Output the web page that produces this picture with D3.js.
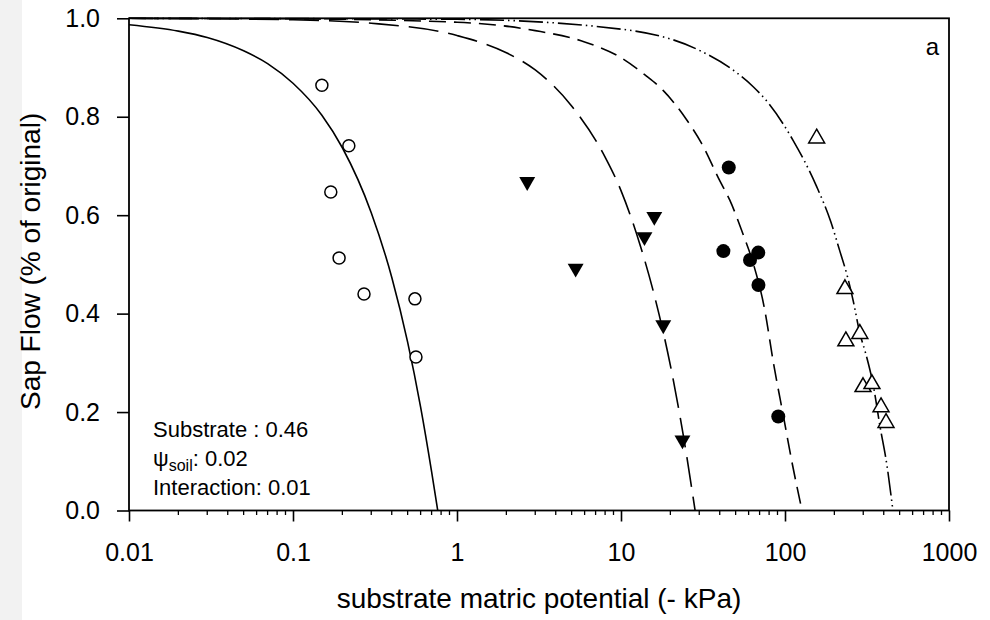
<!DOCTYPE html>
<html><head><meta charset="utf-8">
<script src="https://cdn.jsdelivr.net/npm/d3@7"></script>
<style>
html,body{margin:0;padding:0;background:#fff;}
svg{display:block;font-family:"Liberation Sans",Arial,Helvetica,sans-serif;}
</style></head>
<body>
<svg id="chart" width="990" height="620"></svg>
<script>
// ---- data ----
const xTickValues = [0.01, 0.1, 1, 10, 100, 1000];
const xTickLabels = ["0.01", "0.1", "1", "10", "100", "1000"];
const yTickValues = [0, 0.2, 0.4, 0.6, 0.8, 1.0];
const yTickLabels = ["0.0", "0.2", "0.4", "0.6", "0.8", "1.0"];

// observed points
const openCircleX = [0.150, 0.219, 0.170, 0.191, 0.271, 0.554, 0.562];
const openCircleY = [0.864, 0.741, 0.647, 0.513, 0.440, 0.430, 0.312];
const downTriX = [2.68, 5.29, 13.9, 15.96, 18.1, 23.7];
const downTriY = [0.668, 0.492, 0.556, 0.597, 0.377, 0.143];
const filledCircleX = [45.4, 42.1, 68.7, 61.2, 68.9, 91.0];
const filledCircleY = [0.697, 0.527, 0.524, 0.509, 0.458, 0.191];
const upTriX = [156, 232, 235, 286, 299, 339, 385, 413];
const upTriY = [0.756, 0.450, 0.344, 0.359, 0.251, 0.257, 0.210, 0.178];

// fitted curves
const solidX = [0.01, 0.02, 0.03, 0.05, 0.07, 0.1, 0.15, 0.2, 0.3, 0.4, 0.5, 0.6, 0.7, 0.763];
const solidY = [0.987, 0.974, 0.961, 0.934, 0.908, 0.868, 0.803, 0.737, 0.605, 0.474, 0.342, 0.21, 0.079, 0.0];
const longDashX = [0.01, 0.1, 0.3, 1, 2, 3, 5, 8, 10, 13, 16, 20, 24, 28.3];
const longDashY = [1.0, 0.997, 0.99, 0.965, 0.93, 0.895, 0.822, 0.718, 0.65, 0.542, 0.436, 0.295, 0.152, 0.0];
const medDashX = [0.01, 0.1, 1, 3, 6, 10, 14, 18, 25, 31, 40, 46, 55, 64, 75, 85, 98, 110, 127];
const medDashY = [1.0, 0.999, 0.992, 0.975, 0.952, 0.92, 0.885, 0.854, 0.795, 0.746, 0.67, 0.631, 0.565, 0.502, 0.41, 0.3, 0.19, 0.1, 0.0];
const dddX = [0.01, 1, 10, 30, 50, 64, 80, 112, 156, 190, 216, 240, 261, 286, 310, 345, 380, 417, 455];
const dddY = [1.0, 0.998, 0.978, 0.935, 0.891, 0.861, 0.826, 0.752, 0.658, 0.587, 0.527, 0.476, 0.425, 0.36, 0.32, 0.255, 0.17, 0.095, 0.0];

const annotLines = ["Substrate : 0.46", "ψ|soil|: 0.02", "Interaction: 0.01"];

// ---- layout ----
const svg = d3.select("#chart");
const L = 129, R = 949, T = 18.3, B = 510.5;

// faint scan texture strip at left edge
svg.append("rect").attr("x", 0).attr("y", 0).attr("width", 22).attr("height", 620).attr("fill", "#f2f2f2");

const x = d3.scaleLog().domain([0.01, 1000]).range([L, R]);
const y = d3.scaleLinear().domain([0, 1]).range([B, T]);

const g = svg.append("g");

svg.append("defs").append("clipPath").attr("id", "clip")
  .append("rect").attr("x", L).attr("y", T - 1).attr("width", R - L).attr("height", B - T + 1);

// curves
const line = d3.line().x(d => x(d[0])).y(d => y(d[1])).curve(d3.curveMonotoneX);
function drawCurve(xs, ys, dash) {
  g.append("path").datum(xs.map((v, i) => [v, ys[i]]))
    .attr("d", line).attr("fill", "none").attr("stroke", "#000")
    .attr("stroke-width", 1.6).attr("stroke-dasharray", dash)
    .attr("clip-path", "url(#clip)");
}
drawCurve(solidX, solidY, null);
drawCurve(longDashX, longDashY, "30,10");
drawCurve(medDashX, medDashY, "17,8");
drawCurve(dddX, dddY, "24,4,1.5,4,1.5,4");

// axes
const xAxis = d3.axisBottom(x).tickValues(xTickValues)
  .tickFormat((d, i) => xTickLabels[i]).tickSize(11).tickPadding(22);
const xg = g.append("g").attr("transform", `translate(0,${B})`).call(xAxis);
const minor = [];
for (let e = -2; e < 3; e++) for (let m = 2; m <= 9; m++) minor.push(m * Math.pow(10, e));
xg.selectAll(".minor").data(minor).enter().append("line").attr("class", "minor")
  .attr("x1", d => x(d)).attr("x2", d => x(d)).attr("y1", 0).attr("y2", 4.5)
  .attr("stroke", "#000").attr("stroke-width", 1.3);

const yAxis = d3.axisLeft(y).tickValues(yTickValues)
  .tickFormat((d, i) => yTickLabels[i]).tickSize(12).tickPadding(17);
const yg = g.append("g").attr("transform", `translate(${L},0)`).call(yAxis);

[xg, yg].forEach(a => {
  a.select(".domain").remove();
  a.selectAll(".tick line").attr("stroke", "#000").attr("stroke-width", 1.6);
  a.selectAll("text").attr("fill", "#000").style("font-size", "25px")
    .style("font-family", "'Liberation Sans',Arial,sans-serif");
});

// frame
g.append("rect").attr("x", L).attr("y", T).attr("width", R - L).attr("height", B - T)
  .attr("fill", "none").attr("stroke", "#000").attr("stroke-width", 1.8);

// markers
const tri = d3.symbol().type(d3.symbolTriangle).size(110);
function pts(xs, ys) { return xs.map((v, i) => [v, ys[i]]); }

g.selectAll(".oc").data(pts(openCircleX, openCircleY)).enter().append("circle")
  .attr("cx", d => x(d[0])).attr("cy", d => y(d[1])).attr("r", 6)
  .attr("fill", "#fff").attr("stroke", "#000").attr("stroke-width", 1.5);

g.selectAll(".dt").data(pts(downTriX, downTriY)).enter().append("path")
  .attr("d", tri()).attr("transform", d => `translate(${x(d[0])},${y(d[1])}) rotate(180)`)
  .attr("fill", "#000");

g.selectAll(".fc").data(pts(filledCircleX, filledCircleY)).enter().append("circle")
  .attr("cx", d => x(d[0])).attr("cy", d => y(d[1])).attr("r", 7)
  .attr("fill", "#000");

g.selectAll(".ut").data(pts(upTriX, upTriY)).enter().append("path")
  .attr("d", tri()).attr("transform", d => `translate(${x(d[0])},${y(d[1])})`)
  .attr("fill", "#fff").attr("stroke", "#000").attr("stroke-width", 1.5);

// axis titles
svg.append("text").attr("x", (L + R) / 2).attr("y", 608).attr("text-anchor", "middle")
  .style("font-size", "28px").text("substrate matric potential (- kPa)");
svg.append("text").attr("transform", `translate(40,${(T + B) / 2 - 3}) rotate(-90)`)
  .attr("text-anchor", "middle").style("font-size", "28px").text("Sap Flow (% of original)");

// panel letter
svg.append("text").attr("x", 939).attr("y", 55).attr("text-anchor", "end")
  .style("font-size", "24px").text("a");

// annotation
const ann = svg.append("g").style("font-size", "22px");
const baselines = [437, 466, 495];
annotLines.forEach((s, i) => {
  const t = ann.append("text").attr("x", 153).attr("y", baselines[i]);
  if (s.includes("|")) {
    const parts = s.split("|");
    t.append("tspan").text(parts[0]);
    t.append("tspan").attr("dy", 5).style("font-size", "16px").text(parts[1]);
    t.append("tspan").attr("dy", -5).text(parts[2]);
  } else t.text(s);
});
</script>
</body></html>
